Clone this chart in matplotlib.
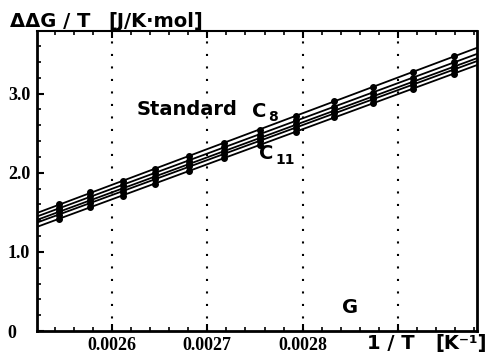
import numpy as np
import matplotlib
matplotlib.use("Agg")
import matplotlib.pyplot as plt
from matplotlib.ticker import MultipleLocator, FixedLocator

# 1/T values (K^-1) of the measurement temperatures, 393 K down to 338 K
inv_T = [0.0025445, 0.0025773, 0.0026110, 0.0026455, 0.0026810, 0.0027174,
         0.0027548, 0.0027933, 0.0028329, 0.0028736, 0.0029155, 0.0029586]

# dDG/T, one list per column
series_1 = [1.60, 1.75, 1.90, 2.05, 2.21, 2.37, 2.54, 2.72, 2.90, 3.08, 3.27, 3.48]
series_2 = [1.55, 1.70, 1.85, 2.00, 2.15, 2.32, 2.48, 2.66, 2.83, 3.01, 3.20, 3.40]
series_3 = [1.51, 1.65, 1.80, 1.95, 2.11, 2.27, 2.44, 2.61, 2.78, 2.96, 3.15, 3.34]
series_4 = [1.47, 1.62, 1.76, 1.92, 2.08, 2.24, 2.40, 2.57, 2.75, 2.93, 3.11, 3.30]
series_5 = [1.42, 1.57, 1.71, 1.86, 2.02, 2.18, 2.35, 2.52, 2.70, 2.88, 3.06, 3.25]

x_ticks = [0.0026, 0.0027, 0.0028, 0.0029]
x_tick_labels = ["0.0026", "0.0027", "0.0028", ""]
y_ticks = [0, 1.0, 2.0, 3.0]
y_tick_labels = ["0", "1.0", "2.0", "3.0"]

W, H = 488, 353
fig = plt.figure(figsize=(W / 100, H / 100), dpi=100)
ax = fig.add_axes([37 / W, 1 - 331 / H, 440 / W, 300 / H])

xmin, xmax = 0.0025213, 0.0029829
ax.set_xlim(xmin, xmax)
ax.set_ylim(0, 3.79)

# vertical dotted grid
for xv in x_ticks:
    ax.axvline(xv, color="black", lw=1.5, ls=(0, (1, 5)), zorder=1)

# fitted lines over the full range plus the data points
x = np.array(inv_T)
xx = np.array([xmin, xmax])
for ys in [series_1, series_2, series_3, series_4, series_5]:
    k, b = np.polyfit(x, ys, 1)
    ax.plot(xx, k * xx + b, color="black", lw=1.3, zorder=3)
    ax.plot(x, ys, "o", color="black", ms=4, zorder=4)

# ticks
ax.xaxis.set_major_locator(FixedLocator(x_ticks))
ax.set_xticklabels(x_tick_labels)
ax.xaxis.set_minor_locator(MultipleLocator(0.00002))
ax.yaxis.set_major_locator(FixedLocator(y_ticks))
ax.set_yticklabels(y_tick_labels)
ax.yaxis.set_minor_locator(MultipleLocator(0.2))
ax.tick_params(which="both", direction="in", top=True, right=False, color="black")
ax.tick_params(which="major", length=5, width=1.5)
ax.tick_params(which="minor", length=3, width=1.2)
ax.tick_params(axis="x", pad=4)
ax.tick_params(axis="y", pad=21)
for lab in ax.get_xticklabels() + ax.get_yticklabels():
    lab.set_fontfamily("Liberation Serif")
    lab.set_fontweight("bold")
    lab.set_fontsize(13)
for lab in ax.get_yticklabels():
    lab.set_horizontalalignment("left")

for side in ["left", "bottom", "right"]:
    ax.spines[side].set_linewidth(2)
ax.spines["top"].set_linewidth(1.5)

bold = dict(fontfamily="DejaVu Sans", fontweight="bold", color="black")

def px(xp, yp):
    return xp / W, 1 - yp / H

fig.text(*px(10, 27), "ΔΔG / T", ha="left", va="baseline", fontsize=14, **bold)
fig.text(*px(108, 27), "[J/K·mol]", ha="left", va="baseline", fontsize=14, **bold)
fig.text(*px(367, 349), "1 / T", ha="left", va="baseline", fontsize=14, **bold)
fig.text(*px(487, 349), "[K⁻¹]", ha="right", va="baseline", fontsize=14, **bold)
fig.text(*px(137, 115), "Standard", ha="left", va="baseline", fontsize=14, **bold)
fig.text(*px(252, 117), "C", ha="left", va="baseline", fontsize=14, **bold)
fig.text(*px(268, 121), "8", ha="left", va="baseline", fontsize=10, **bold)
fig.text(*px(259, 159), "C", ha="left", va="baseline", fontsize=14, **bold)
fig.text(*px(275, 164), "11", ha="left", va="baseline", fontsize=10, **bold)
fig.text(*px(342, 313), "G", ha="left", va="baseline", fontsize=14, **bold)

fig.savefig("out.png", dpi=100)
